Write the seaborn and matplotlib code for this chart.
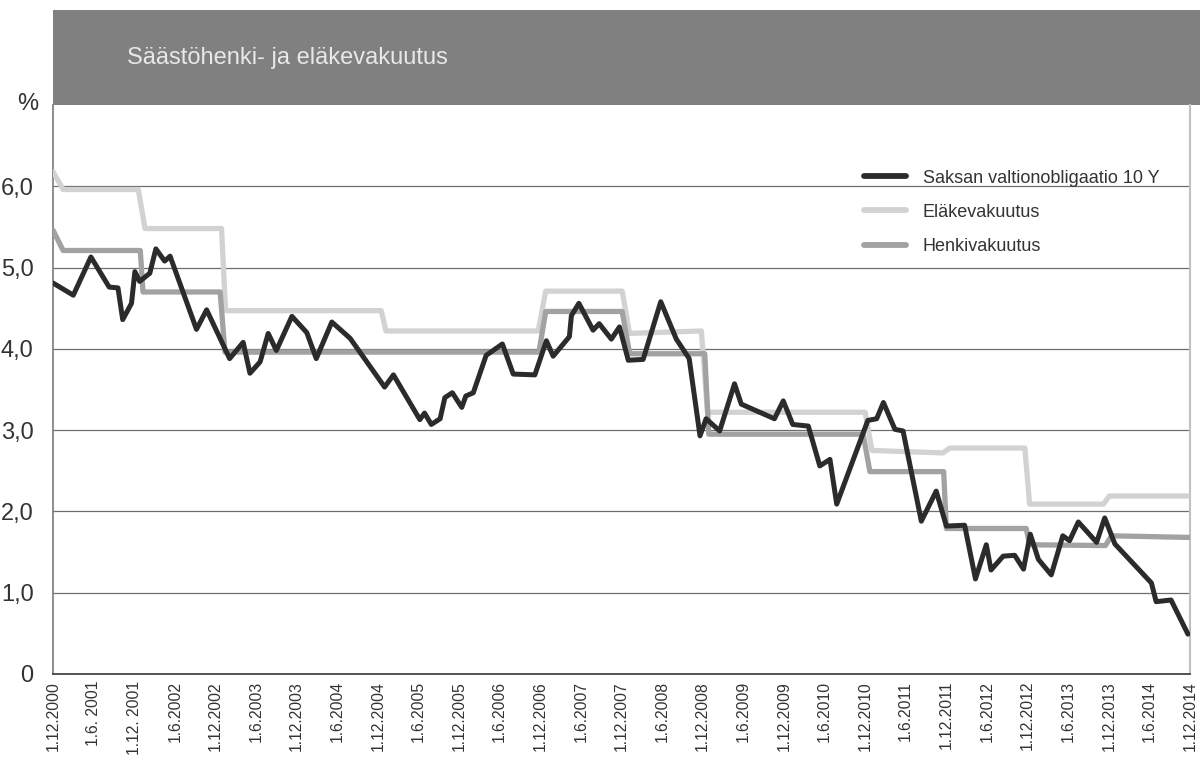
import matplotlib
matplotlib.use("Agg")
import matplotlib.pyplot as plt
from matplotlib.patches import Rectangle
import pandas as pd
import seaborn as sns

# -----------------------------
# Data (x = months since 1.12.2000)
# -----------------------------
bund_months = [
    0, 3.0, 5.6, 8.3, 9.6, 10.3, 11.6, 12.1, 12.8, 14.3, 15.2, 16.5, 17.3,
    21.2, 22.7, 26.1, 28.1, 29.1, 30.6, 31.8, 33.0, 35.3, 37.5, 38.9, 41.2,
    43.9, 49.0, 50.3, 54.2, 54.9, 55.9, 57.2, 57.9, 59.0, 60.4, 61.0, 62.1,
    64.0, 66.4, 68.0, 71.2, 72.9, 73.9, 76.3, 76.6, 77.7, 79.8, 80.7, 82.5,
    83.7, 85.0, 87.2, 89.8, 92.1, 94.0, 95.6, 96.5, 98.5, 100.7, 101.7,
    106.6, 107.9, 109.3, 111.6, 113.3, 114.8, 115.8, 120.4, 121.7, 122.7,
    124.4, 125.6, 128.3, 130.5, 132.0, 134.7, 136.3, 137.9, 138.6, 140.4,
    142.1, 143.4, 144.4, 145.6, 147.5, 149.2, 150.2, 151.5, 154.2, 155.4,
    156.9, 162.3, 163.0, 165.2, 167.7,
]
bund_values = [
    4.81, 4.66, 5.13, 4.76, 4.75, 4.36, 4.56, 4.95, 4.83, 4.93, 5.23, 5.08, 5.14,
    4.24, 4.48, 3.88, 4.08, 3.70, 3.84, 4.19, 3.98, 4.40, 4.20, 3.88, 4.33,
    4.13, 3.53, 3.68, 3.13, 3.21, 3.07, 3.14, 3.40, 3.46, 3.28, 3.42, 3.46,
    3.92, 4.06, 3.69, 3.68, 4.10, 3.91, 4.15, 4.41, 4.56, 4.23, 4.31, 4.12,
    4.27, 3.86, 3.87, 4.58, 4.12, 3.88, 2.93, 3.14, 2.99, 3.57, 3.32,
    3.14, 3.36, 3.07, 3.05, 2.56, 2.64, 2.09, 3.12, 3.14, 3.34,
    3.01, 2.99, 1.88, 2.25, 1.82, 1.83, 1.17, 1.59, 1.28, 1.45,
    1.46, 1.29, 1.72, 1.41, 1.22, 1.70, 1.64, 1.87, 1.62, 1.92,
    1.60, 1.12, 0.89, 0.91, 0.49,
]

pension_months = [0, 1.5, 12.6, 13.6, 24.9, 25.5, 48.5, 49.2, 71.7, 72.8, 84.1,
                  85.2, 95.8, 96.7, 120.0, 121.0, 131.5, 132.5, 143.6, 144.3,
                  155.2, 156.1, 168]
pension_values = [6.18, 5.96, 5.96, 5.48, 5.48, 4.47, 4.47, 4.22, 4.22, 4.71, 4.71,
                  4.19, 4.22, 3.22, 3.22, 2.75, 2.72, 2.78, 2.78, 2.09,
                  2.09, 2.19, 2.19]

life_months = [0, 1.5, 12.9, 13.3, 24.7, 25.4, 71.8, 72.8, 84.1, 85.2, 96.3,
               96.9, 119.7, 120.7, 131.6, 132.0, 143.8, 144.3, 155.5, 156.4, 168]
life_values = [5.46, 5.21, 5.21, 4.70, 4.70, 3.96, 3.96, 4.46, 4.46, 3.94, 3.94,
               2.95, 2.95, 2.49, 2.49, 1.79, 1.79, 1.59, 1.58, 1.70, 1.68]

tick_labels = [
    "1.12.2000", "1.6. 2001", "1.12. 2001", "1.6.2002", "1.12.2002",
    "1.6.2003", "1.12.2003", "1.6.2004", "1.12.2004", "1.6.2005",
    "1.12.2005", "1.6.2006", "1.12.2006", "1.6.2007", "1.12.2007",
    "1.6.2008", "1.12.2008", "1.6.2009", "1.12.2009", "1.6.2010",
    "1.12.2010", "1.6.2011", "1.12.2011", "1.6.2012", "1.12.2012",
    "1.6.2013", "1.12.2013", "1.6.2014", "1.12.2014",
]
y_labels = ["0", "1,0", "2,0", "3,0", "4,0", "5,0", "6,0"]

# -----------------------------
# Style
# -----------------------------
sns.set_style("white")
plt.rcParams["font.family"] = ["Liberation Sans", "DejaVu Sans"]

fig = plt.figure(figsize=(12, 7.58), dpi=100)
ax = fig.add_axes([53 / 1200, 84 / 758, 1137 / 1200, 569 / 758])

# header band
fig.add_artist(Rectangle((53 / 1200, 653 / 758), 1 - 53 / 1200, 95 / 758,
                         transform=fig.transFigure, facecolor="#808080",
                         edgecolor="none", zorder=0))
fig.text(127 / 1200, 700 / 758, "Säästöhenki- ja eläkevakuutus",
         color="#e8e8e8", fontsize=17, va="center", ha="left")
fig.text(28 / 1200, 654 / 758, "%", color="#333333", fontsize=17,
         ha="center", va="center")

# -----------------------------
# Lines
# -----------------------------
pension = pd.DataFrame({"month": pension_months, "value": pension_values})
life = pd.DataFrame({"month": life_months, "value": life_values})
bund = pd.DataFrame({"month": bund_months, "value": bund_values})

sns.lineplot(data=pension, x="month", y="value", ax=ax, color="#d2d2d2",
             lw=3.8, label="Eläkevakuutus", zorder=3)
sns.lineplot(data=life, x="month", y="value", ax=ax, color="#a2a2a2",
             lw=3.8, label="Henkivakuutus", zorder=4)
sns.lineplot(data=bund, x="month", y="value", ax=ax, color="#2b2b2b",
             lw=3.6, label="Saksan valtionobligaatio 10 Y", zorder=5)

# -----------------------------
# Axes
# -----------------------------
ax.set_xlim(0, 168)
ax.set_ylim(0, 7)
ax.set_xticks(range(0, 169, 6))
ax.set_xticklabels(tick_labels, rotation=90, fontsize=11.3, color="#333333")
ax.set_yticks(range(0, 7))
ax.set_yticklabels(y_labels, fontsize=17, color="#333333")
ax.tick_params(axis="x", direction="in", length=6, width=1, color="#666666",
               pad=5)
ax.tick_params(axis="y", length=0, pad=14)
ax.set_xlabel("")
ax.set_ylabel("")

for yv in range(1, 7):
    ax.axhline(yv, color="#6e6e6e", lw=0.9, zorder=1)

ax.spines["top"].set_visible(False)
ax.spines["left"].set_color("#7a7a7a")
ax.spines["left"].set_linewidth(1.2)
ax.spines["bottom"].set_color("#444444")
ax.spines["bottom"].set_linewidth(1.3)
ax.spines["right"].set_color("#c0c0c0")
ax.spines["right"].set_linewidth(1.5)

handles, labels = ax.get_legend_handles_labels()
order = [2, 0, 1]
leg = ax.legend([handles[i] for i in order], [labels[i] for i in order],
                loc="upper left", bbox_to_anchor=(0.699, 0.915),
                frameon=False, fontsize=13, handlelength=2.3,
                handletextpad=0.95, labelspacing=0.95)
for line in leg.get_lines():
    line.set_linewidth(4.2)
for t in leg.get_texts():
    t.set_color("#333333")

fig.savefig("out.png", dpi=100)
